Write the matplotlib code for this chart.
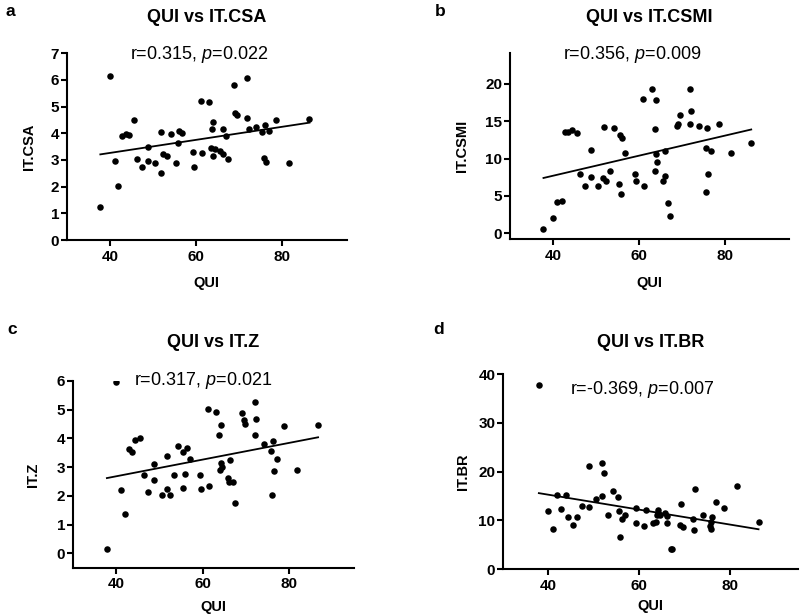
import numpy as np
import matplotlib
matplotlib.use('Agg')
import matplotlib.pyplot as plt

plt.rcParams['font.family'] = ['Liberation Sans', 'DejaVu Sans']
plt.rcParams['mathtext.fontset'] = 'custom'
plt.rcParams['mathtext.rm'] = 'Liberation Sans'
plt.rcParams['mathtext.it'] = 'Liberation Sans:italic'

# panel a: QUI vs IT.CSA
qui_a = [37.8, 40.0, 41.2, 41.9, 42.9, 43.7, 44.5, 45.6, 46.4, 47.4, 48.9, 48.9, 50.5,
         51.8, 51.9, 52.4, 53.2, 54.2, 55.3, 55.7, 56.0, 56.8, 59.2, 59.5, 61.1, 61.4,
         63.0, 63.6, 63.5, 63.9, 64.0, 64.3, 65.6, 66.2, 66.2, 67.0, 67.3, 68.8, 69.1,
         69.6, 71.9, 71.9, 72.2, 74.0, 75.4, 75.9, 75.8, 76.3, 76.8, 78.5, 81.5, 86.3]
csa = [1.24, 6.15, 2.96, 2.02, 3.90, 3.96, 3.94, 4.50, 3.05, 2.75, 3.47, 2.96, 2.90,
       2.50, 4.04, 3.22, 3.16, 3.96, 2.87, 3.62, 4.07, 4.02, 3.29, 2.73, 5.22, 3.27,
       5.16, 4.16, 3.45, 4.42, 3.16, 3.42, 3.33, 3.23, 4.16, 3.91, 3.05, 5.80, 4.77,
       4.70, 6.06, 4.57, 4.17, 4.24, 4.05, 4.31, 3.06, 2.91, 4.10, 4.49, 2.87, 4.55]

# panel b: QUI vs IT.CSMI
qui_b = [37.8, 40.0, 41.0, 42.0, 42.7, 43.6, 44.5, 45.6, 46.4, 47.4, 48.9, 48.9, 50.5,
         51.7, 51.9, 52.3, 53.2, 54.2, 55.3, 55.6, 55.8, 56.2, 56.7, 59.1, 59.4, 61.2,
         61.0, 63.0, 63.7, 63.7, 63.9, 64.0, 64.3, 65.6, 66.1, 66.2, 66.8, 67.2, 68.8,
         69.1, 69.6, 71.9, 72.2, 71.9, 74.0, 75.9, 75.6, 75.7, 76.1, 76.9, 78.6, 81.5, 86.2]
csmi = [0.6, 2.1, 4.2, 4.3, 13.6, 13.6, 13.8, 13.4, 8.0, 6.3, 11.2, 7.5, 6.4,
        7.4, 14.3, 7.0, 8.3, 14.1, 6.6, 13.2, 5.2, 12.8, 10.7, 8.0, 7.0, 6.3,
        18.0, 19.3, 13.9, 8.3, 17.8, 10.6, 9.6, 7.0, 7.7, 11.0, 4.1, 2.3, 14.4,
        14.7, 15.9, 19.3, 16.4, 14.7, 14.4, 14.1, 11.4, 5.5, 8.0, 11.0, 14.7, 10.7, 12.1]

# panel c: QUI vs IT.Z
qui_c = [37.9, 40.0, 41.2, 42.1, 42.9, 43.8, 44.4, 45.6, 46.5, 47.4, 48.9, 48.9, 50.6,
         51.8, 51.9, 52.4, 53.3, 54.3, 55.4, 55.6, 55.9, 56.4, 57.0, 59.4, 59.6, 61.6,
         61.3, 63.2, 63.9, 64.0, 64.2, 64.3, 64.6, 66.0, 66.2, 66.4, 67.1, 67.5, 69.1,
         69.5, 69.8, 72.2, 72.4, 72.2, 74.3, 75.8, 76.2, 76.0, 76.5, 77.1, 78.8, 81.8, 86.7]
itz = [0.16, 5.98, 2.20, 1.38, 3.64, 3.53, 3.93, 4.02, 2.71, 2.12, 3.12, 2.54, 2.03,
       2.25, 3.38, 2.02, 2.73, 3.74, 2.27, 3.52, 2.77, 3.68, 3.27, 2.72, 2.25, 2.33,
       5.03, 4.91, 4.12, 2.91, 4.46, 3.16, 3.02, 2.64, 2.48, 3.24, 2.47, 1.75, 4.87,
       4.64, 4.50, 5.28, 4.67, 4.12, 3.81, 3.58, 3.92, 2.04, 2.85, 3.27, 4.44, 2.90, 4.47]

# panel d: QUI vs IT.BR
qui_d = [37.9, 40.0, 41.0, 42.0, 42.7, 43.8, 44.4, 45.5, 46.4, 47.5, 48.9, 48.9, 50.6,
         51.8, 51.9, 52.3, 53.2, 54.2, 55.4, 55.6, 55.8, 56.3, 56.9, 59.3, 59.3, 61.1,
         61.4, 63.1, 63.7, 64.1, 64.2, 63.9, 64.5, 65.8, 66.2, 66.2, 67.0, 67.3, 68.9,
         69.3, 69.6, 71.9, 72.2, 72.0, 74.0, 75.6, 75.8, 76.1, 75.8, 76.9, 78.7, 81.6, 86.3]
br = [37.8, 12.0, 8.3, 15.2, 12.4, 15.2, 10.8, 9.0, 10.7, 13.0, 21.2, 12.8, 14.3,
      15.0, 21.8, 19.7, 11.1, 16.0, 14.8, 12.0, 6.7, 10.2, 11.1, 12.5, 9.4, 8.8,
      12.1, 9.5, 9.7, 12.2, 11.6, 11.1, 11.2, 11.6, 10.9, 9.5, 4.2, 4.2, 9.1,
      13.3, 8.7, 10.2, 16.5, 8.1, 11.1, 8.9, 8.2, 10.8, 9.6, 13.7, 12.6, 17.1, 9.6]

# fitted line ends (y at min QUI, y at max QUI)
fits = [(3.21, 4.40), (7.41, 13.9), (2.62, 4.04), (15.6, 8.2)]
stats = ['r=0.315, $\\it{p}$=0.022', 'r=0.356, $\\it{p}$=0.009',
         'r=0.317, $\\it{p}$=0.021', 'r=-0.369, $\\it{p}$=0.007']
titles = ['QUI vs IT.CSA', 'QUI vs IT.CSMI', 'QUI vs IT.Z', 'QUI vs IT.BR']
ylabels = ['IT.CSA', 'IT.CSMI', 'IT.Z', 'IT.BR']
letters = ['a', 'b', 'c', 'd']
yticks = [range(0, 8), [0, 5, 10, 15, 20], range(0, 7), [0, 10, 20, 30, 40]]
ylims = [(0, 7), (-0.8, 24.1), (-0.5, 6), (0, 40)]
stat_pos = [(60.7, 6.95), (58.4, 23.9), (60.2, 6.03), (60.7, 36.9)]

W, H = 800, 616
fig = plt.figure(figsize=(8, 6.16), dpi=100)

# axes boxes in pixels: left, right, top, bottom
boxes = [(66.7, 347, 53.3, 240), (510, 789, 53.3, 239.3),
         (72.7, 354, 381, 567.7), (503, 798, 374, 569.3)]
letter_pos = [(6, 11), (435, 11), (7, 329), (433, 329)]
title_y = [17, 17, 343, 343]
ylab_x = [29, 462, 33, 463]
xlab_y = [283, 283, 607, 606]

data = [(qui_a, csa), (qui_b, csmi), (qui_c, itz), (qui_d, br)]

for i, (x, y) in enumerate(data):
    l, r, t, b = boxes[i]
    ax = fig.add_axes([l / W, 1 - b / H, (r - l) / W, (b - t) / H])
    ax.scatter(x, y, s=22, color='black', zorder=3, linewidths=0)
    xs = [min(x), max(x)]
    ax.plot(xs, fits[i], color='black', lw=1.3)
    ax.set_xlim(30, 95)
    ax.set_ylim(*ylims[i])
    ax.set_xticks([40, 60, 80])
    ax.set_yticks(list(yticks[i]))
    ax.spines['right'].set_color('none')
    ax.spines['top'].set_color('none')
    for s in ['left', 'bottom']:
        ax.spines[s].set_linewidth(1.5)
    ax.tick_params(width=1.5, length=4, labelsize=11)
    ax.tick_params(axis='y', pad=1.5)
    ax.tick_params(axis='x', pad=3)
    for lab in ax.get_xticklabels() + ax.get_yticklabels():
        lab.set_fontweight('bold')
    ax.text(stat_pos[i][0], stat_pos[i][1], stats[i], ha='center', va='center', fontsize=13)
    cx = (l + r) / 2 / W
    fig.text(cx, 1 - title_y[i] / H, titles[i], ha='center', va='center',
             fontsize=13, fontweight='bold')
    fig.text(letter_pos[i][0] / W, 1 - letter_pos[i][1] / H, letters[i], ha='left',
             va='center', fontsize=12.5, fontweight='bold')
    fig.text(ylab_x[i] / W, 1 - (t + b) / 2 / H, ylabels[i], rotation=90,
             ha='center', va='center', fontsize=10.5, fontweight='bold')
    fig.text(cx, 1 - xlab_y[i] / H, 'QUI', ha='center', va='center',
             fontsize=10.5, fontweight='bold')

fig.savefig('out.png', dpi=100)
